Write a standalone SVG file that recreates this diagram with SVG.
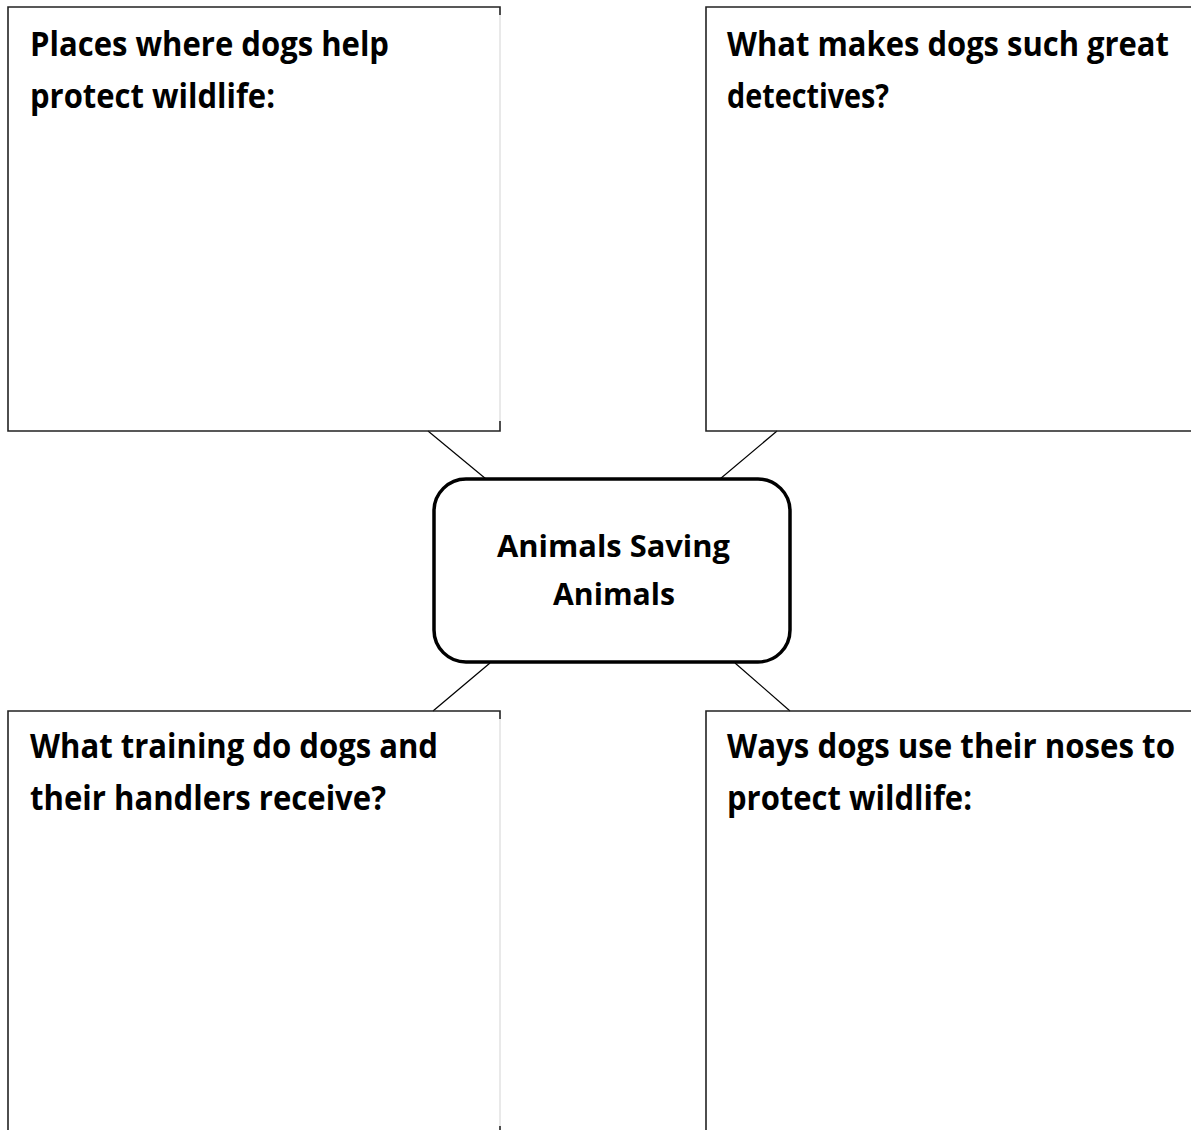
<svg xmlns="http://www.w3.org/2000/svg" width="1191" height="1130" viewBox="0 0 1191 1130">
<style>
.dark{stroke:#222;stroke-width:1.6;fill:none}
.light{stroke:#e2e2e2;stroke-width:1.5;fill:none}
.t{font-family:"Open Sans","Lato","Liberation Sans",sans-serif;font-weight:bold;font-size:34px;fill:#000}
.c{font-family:"Open Sans","Lato","Liberation Sans",sans-serif;font-weight:bold;font-size:31px;fill:#000}
.conn{stroke:#000;stroke-width:1.2;fill:none}
</style>
<rect width="1191" height="1130" fill="#fff"/>
<g id="connectors">
<line class="conn" x1="428" y1="431" x2="486" y2="479"/>
<line class="conn" x1="777" y1="431" x2="720" y2="479"/>
<line class="conn" x1="490" y1="663" x2="433" y2="711"/>
<line class="conn" x1="735" y1="663" x2="790" y2="711"/>
</g>
<g id="box-places">
<path class="dark" d="M500,15 V7 H8 V431 H500 V421"/>
<path class="light" d="M500,15 V421"/>
<text class="t" x="30" y="56" textLength="359" lengthAdjust="spacingAndGlyphs">Places where dogs help</text>
<text class="t" x="30" y="108" textLength="245" lengthAdjust="spacingAndGlyphs">protect wildlife:</text>
</g>
<g id="box-detectives">
<path class="dark" d="M1191,7 H706 V431 H1191"/>
<text class="t" x="727" y="56" textLength="442" lengthAdjust="spacingAndGlyphs">What makes dogs such great</text>
<text class="t" x="727" y="108" textLength="162" lengthAdjust="spacingAndGlyphs">detectives?</text>
</g>
<g id="center">
<rect x="434" y="479" width="356" height="183" rx="32" ry="32" fill="#fff" stroke="#000" stroke-width="3.5"/>
<text class="c" x="497" y="557" textLength="233" lengthAdjust="spacingAndGlyphs">Animals Saving</text>
<text class="c" x="553" y="605" textLength="122" lengthAdjust="spacingAndGlyphs">Animals</text>
</g>
<g id="box-training">
<path class="dark" d="M500,719 V711 H8 V1130"/>
<path class="light" d="M500,719 V1126"/>
<path class="dark" d="M500,1126 V1130"/>
<text class="t" x="30" y="758" textLength="408" lengthAdjust="spacingAndGlyphs">What training do dogs and</text>
<text class="t" x="30" y="810" textLength="356" lengthAdjust="spacingAndGlyphs">their handlers receive?</text>
</g>
<g id="box-noses">
<path class="dark" d="M1191,711 H706 V1130"/>
<text class="t" x="727" y="758" textLength="448" lengthAdjust="spacingAndGlyphs">Ways dogs use their noses to</text>
<text class="t" x="727" y="810" textLength="245" lengthAdjust="spacingAndGlyphs">protect wildlife:</text>
</g>
</svg>
